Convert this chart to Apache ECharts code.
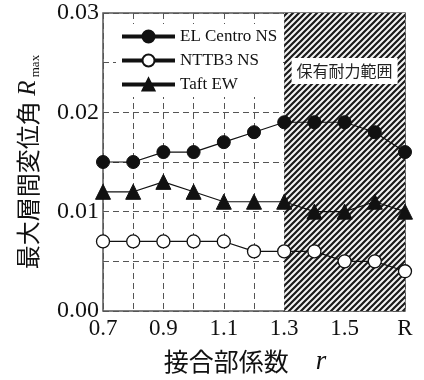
<!DOCTYPE html>
<html><head><meta charset="utf-8">
<script src="https://cdn.jsdelivr.net/npm/echarts@6/dist/echarts.min.js"></script>
<style>html,body{margin:0;padding:0;background:#fff}#c{width:424px;height:380px}</style>
</head><body><div id="c"></div>
<script>
const categories = ['0.7','0.8','0.9','1.0','1.1','1.2','1.3','1.4','1.5','1.6','R'];
const elCentro = [0.015,0.015,0.016,0.016,0.017,0.018,0.019,0.019,0.019,0.018,0.016];
const nttb3   = [0.007,0.007,0.007,0.007,0.007,0.006,0.006,0.006,0.005,0.005,0.004];
const taft    = [0.012,0.012,0.013,0.012,0.011,0.011,0.011,0.010,0.010,0.011,0.010];
const seriesNames = ['EL Centro NS','NTTB3 NS','Taft EW'];
const hatchRange = ['1.3','R'];
const hatchLabel = '保有耐力範囲';
const yTicks = [0, 0.01, 0.02, 0.03];

function makeHatch(){
  const c=document.createElement('canvas'); c.width=6; c.height=6;
  const g=c.getContext('2d');
  g.fillStyle='#f4f4f4'; g.fillRect(0,0,6,6);
  g.strokeStyle='#1a1a1a'; g.lineWidth=2.2;
  g.beginPath();
  g.moveTo(-1,7); g.lineTo(7,-1);
  g.moveTo(-1,1); g.lineTo(1,-1);
  g.moveTo(5,7); g.lineTo(7,5);
  g.stroke();
  return c;
}
const serif = '"Liberation Serif","DejaVu Serif",serif';
const cjk = '"Noto Sans CJK JP","Liberation Serif",serif';
const chart = echarts.init(document.getElementById('c'), null, {renderer:'canvas'});
const lineBase = {type:'line', z:3, lineStyle:{color:'#111', width:1.2}, symbolSize:13};
chart.setOption({
  animation:false,
  backgroundColor:'#fff',
  grid:{left:103, right:19, top:13, bottom:67, show:true, borderColor:'#555', borderWidth:1.5, backgroundColor:'transparent'},
  legend:{
    data:seriesNames, orient:'vertical', left:116, top:24,
    itemWidth:53, itemHeight:15, itemGap:7,
    backgroundColor:'#fff', padding:[4,4,4,4],
    lineStyle:{width:4, color:'#111'},
    textStyle:{fontFamily:serif, fontSize:17, color:'#111'}
  },
  xAxis:{
    type:'category', data:categories, boundaryGap:false,
    axisLine:{show:false}, axisTick:{show:false},
    axisLabel:{interval:1, fontFamily:serif, fontSize:23, color:'#111', margin:6},
    splitLine:{show:true, interval:0, lineStyle:{type:[6,4], color:'#555', width:1}},
    name:'{a|接合部係数}{b|    r}', nameLocation:'middle', nameGap:37,
    nameTextStyle:{rich:{
      a:{fontFamily:cjk, fontSize:25, color:'#111'},
      b:{fontFamily:serif, fontStyle:'italic', fontSize:27, color:'#111'}
    }, padding:[0,18,0,0]}
  },
  yAxis:{
    type:'value', min:0, max:0.03, interval:0.005,
    axisLine:{show:false}, axisTick:{show:false},
    axisLabel:{fontFamily:serif, fontSize:24, color:'#111', margin:4,
      formatter:v=>{const t=yTicks.find(k=>Math.abs(k-v)<1e-9);return t===undefined?'':t.toFixed(2);}},
    splitLine:{show:true, lineStyle:{type:[6,4], color:'#555', width:1}},
    name:'{a|最大層間変位角 }{b|R}{c| max}', nameLocation:'middle', nameGap:61,
    nameTextStyle:{rich:{
      a:{fontFamily:cjk, fontSize:24, color:'#111', lineHeight:28},
      b:{fontFamily:serif, fontStyle:'italic', fontSize:25, color:'#111', lineHeight:28},
      c:{fontFamily:serif, fontSize:13, color:'#111', lineHeight:28, verticalAlign:'bottom'}
    }}
  },
  series:[
    {type:'line', name:'_hatch', z:1, data:elCentro, symbol:'none', lineStyle:{opacity:0}, silent:true,
      markArea:{silent:true,
        itemStyle:{color:{image:makeHatch(), repeat:'repeat'}},
        label:{show:true, formatter:hatchLabel, position:'insideTop', distance:45,
          fontFamily:cjk, fontSize:16, color:'#222', backgroundColor:'#fff', padding:[5,5,5,5]},
        data:[[{xAxis:hatchRange[0]},{xAxis:hatchRange[1]}]]}},
    Object.assign({}, lineBase, {name:seriesNames[0], data:elCentro, symbol:'circle',
      itemStyle:{color:'#111', borderColor:'#111', borderWidth:1}}),
    Object.assign({}, lineBase, {name:seriesNames[1], data:nttb3, symbol:'circle',
      itemStyle:{color:'#fff', borderColor:'#111', borderWidth:1.3}}),
    Object.assign({}, lineBase, {name:seriesNames[2], data:taft, symbol:'triangle', symbolSize:15,
      itemStyle:{color:'#111', borderColor:'#111', borderWidth:1}})
  ]
});
</script></body></html>
